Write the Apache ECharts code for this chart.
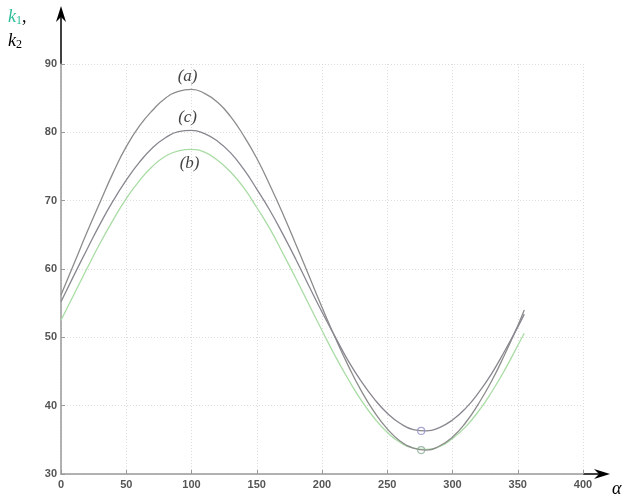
<!DOCTYPE html>
<html>
<head>
<meta charset="utf-8">
<script src="https://cdn.jsdelivr.net/npm/echarts@6/dist/echarts.min.js"></script>
<style>html,body{margin:0;padding:0;background:#fff;}#c{width:623px;height:497px;}</style>
</head>
<body>
<div id="c"></div>
<script>
var alpha = [0,10,20,30,40,50,60,70,80,90,100,110,120,130,140,150,160,170,180,190,200,210,220,230,240,250,260,270,280,290,300,310,320,330,340,350,355];
var curveA = [56.2,60.8,65.4,69.8,74.1,77.9,80.9,83.2,85.0,86.0,86.3,85.7,84.4,82.3,79.5,76.2,72.3,68.1,63.6,59.0,54.4,50.0,45.9,42.2,39.1,36.6,34.8,33.8,33.5,34.1,35.4,37.5,40.3,43.6,47.5,51.7,54.0];
var curveC = [55.2,59.1,62.9,66.6,70.0,73.0,75.6,77.7,79.2,80.1,80.3,79.8,78.7,77.0,74.6,71.7,68.6,65.1,61.4,57.5,53.7,50.1,46.6,43.6,41.0,38.9,37.4,36.5,36.3,36.8,37.9,39.6,41.9,44.7,48.0,51.5,53.4];
var curveB = [52.5,56.3,60.1,63.8,67.2,70.3,72.9,75.0,76.5,77.3,77.5,77.1,75.9,74.2,71.9,69.0,65.9,62.3,58.6,54.8,51.0,47.3,43.9,40.8,38.2,36.1,34.6,33.8,33.6,34.0,35.2,36.9,39.2,42.0,45.2,48.8,50.6];
var minPoints = [[276,36.3],[276,33.5]];
var curveLabels = [{name:'(a)',coord:[97,88.2]},{name:'(c)',coord:[97,82.2]},{name:'(b)',coord:[98.5,75.4]}];
var xTicks = [0,50,100,150,200,250,300,350,400];
var yTicks = [30,40,50,60,70,80,90];

function pairs(xs, ys){ return xs.map(function(x,i){return [x, ys[i]];}); }

var chart = echarts.init(document.getElementById('c'), null, {renderer:'canvas'});
var labelFont = {color:'#555', fontFamily:'Liberation Sans, Arial', fontSize:11, fontWeight:'bold'};
var option = {
  animation:false,
  backgroundColor:'#fff',
  grid:{left:61, right:40, top:64, bottom:23, containLabel:false},
  xAxis:{type:'value', min:0, max:400, interval:50,
    axisLine:{show:true, lineStyle:{color:'#999', width:1.5}},
    axisTick:{show:true, inside:true, length:4, lineStyle:{color:'#999'}},
    axisLabel:Object.assign({margin:5, formatter:function(v){return xTicks.indexOf(v)>=0?String(v):'';}}, labelFont),
    splitLine:{show:true, lineStyle:{color:'#dcdcdc', type:[1,2], width:1}}},
  yAxis:{type:'value', min:30, max:90, interval:10,
    axisLine:{show:true, lineStyle:{color:'#999', width:1.5}},
    axisTick:{show:true, inside:true, length:4, lineStyle:{color:'#999'}},
    axisLabel:Object.assign({margin:4, formatter:function(v){return yTicks.indexOf(v)>=0?String(v):'';}}, labelFont),
    splitLine:{show:true, lineStyle:{color:'#dcdcdc', type:[1,2], width:1}}},
  series:[
    {name:'(a)', type:'line', data:pairs(alpha,curveA), smooth:0.5, showSymbol:false,
      lineStyle:{color:'#8c8c8c', width:1.3}, z:3},
    {name:'(c)', type:'line', data:pairs(alpha,curveC), smooth:0.5, showSymbol:false,
      lineStyle:{color:'#8a8690', width:1.3}, z:3},
    {name:'(b)', type:'line', data:pairs(alpha,curveB), smooth:0.5, showSymbol:false,
      lineStyle:{color:'#a9dca4', width:1.3}, z:2},
    {type:'scatter', data:[minPoints[0]], symbol:'circle', symbolSize:7,
      itemStyle:{color:'rgba(255,255,255,0)', borderColor:'#8e8ec4', borderWidth:1.2}, z:5},
    {type:'scatter', data:[minPoints[1]], symbol:'circle', symbolSize:7,
      itemStyle:{color:'rgba(255,255,255,0)', borderColor:'#8aa894', borderWidth:1.2}, z:5},
    {type:'scatter', data:curveLabels.map(function(d){return {name:d.name, value:d.coord};}),
      symbolSize:0, silent:true,
      label:{show:true, position:'inside', formatter:function(p){return p.name;},
        fontFamily:'Liberation Serif, Times New Roman', fontStyle:'italic', fontSize:17, color:'#111'}, z:6}
  ]
};
chart.setOption(option);

var o = chart.convertToPixel({gridIndex:0}, [0,90]);
var e = chart.convertToPixel({gridIndex:0}, [400,30]);
chart.setOption({graphic:[
  {type:'line', shape:{x1:o[0], y1:o[1], x2:o[0], y2:12}, style:{stroke:'#000', lineWidth:1.5}},
  {type:'polygon', shape:{points:[[o[0],6],[o[0]-5,22],[o[0],17],[o[0]+5,22]]}, style:{fill:'#000'}},
  {type:'line', shape:{x1:e[0], y1:e[1], x2:604, y2:e[1]}, style:{stroke:'#000', lineWidth:1.5}},
  {type:'polygon', shape:{points:[[610,e[1]],[594,e[1]-5],[599,e[1]],[594,e[1]+5]]}, style:{fill:'#000'}},
  {type:'text', left:8, top:8, style:{text:'{k|k}{s|1}{c|,}', rich:{
    k:{fontFamily:'Liberation Serif', fontStyle:'italic', fontSize:18, fill:'#2ebf9a'},
    s:{fontFamily:'Liberation Serif', fontSize:12, fill:'#2ebf9a', padding:[8,0,0,0]},
    c:{fontFamily:'Liberation Serif', fontSize:18, fill:'#000'}}}},
  {type:'text', left:8, top:32, style:{text:'{k|k}{s|2}', rich:{
    k:{fontFamily:'Liberation Serif', fontStyle:'italic', fontSize:18, fill:'#000'},
    s:{fontFamily:'Liberation Serif', fontSize:12, fill:'#000', padding:[8,0,0,0]}}}},
  {type:'text', left:612, top:480, style:{text:'α', fontFamily:'Liberation Serif', fontStyle:'italic', fontSize:18, fill:'#000'}}
]});
</script>
</body>
</html>
